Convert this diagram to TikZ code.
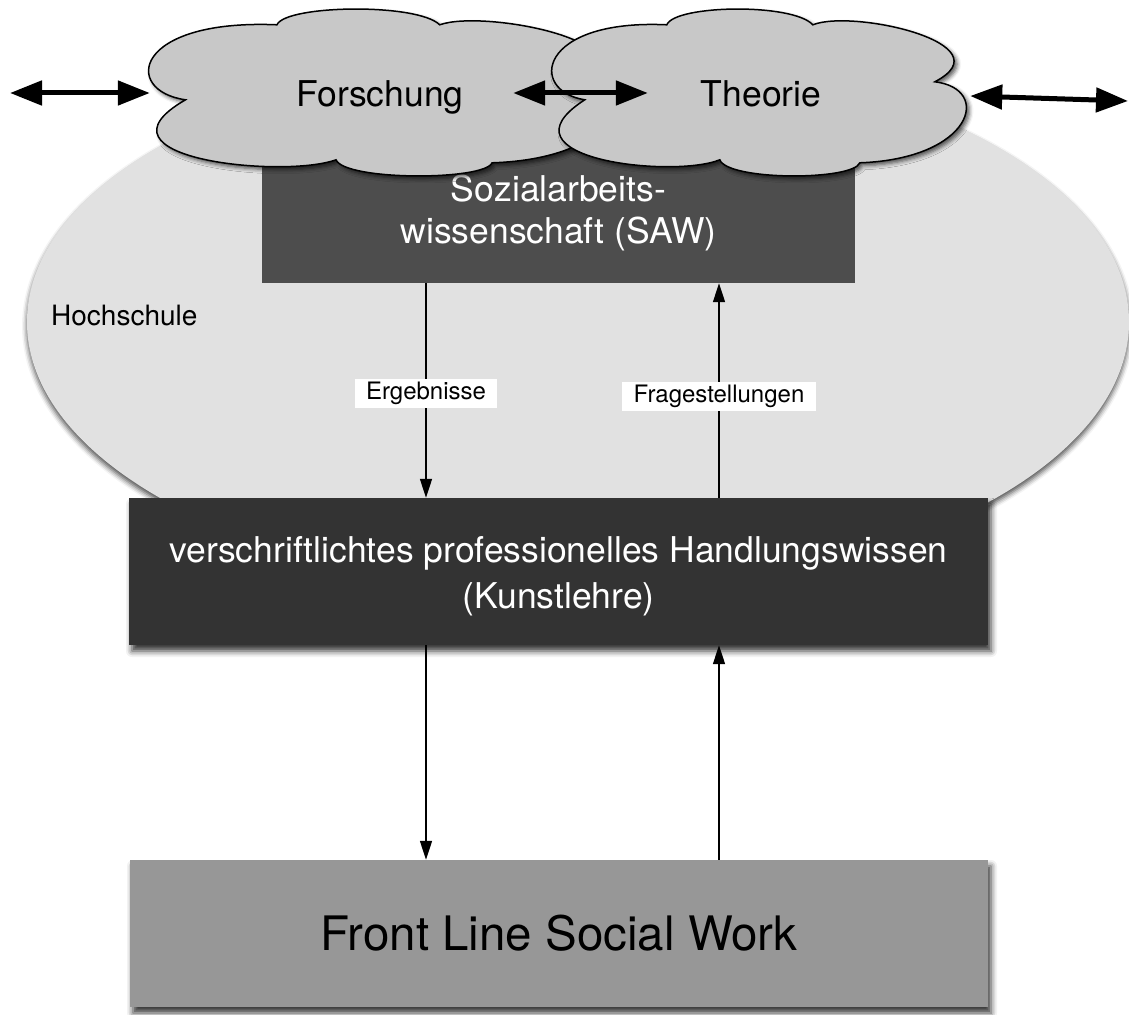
\documentclass[tikz,border=0pt]{standalone}
\usepackage{fontspec}
\setmainfont{TeX Gyre Heros}
\usetikzlibrary{arrows.meta,shadows.blur,shapes.geometric}
\definecolor{ellgray}{HTML}{E1E1E1}
\definecolor{cloudgray}{HTML}{C8C8C8}
\definecolor{sawgray}{HTML}{4D4D4D}
\definecolor{klgray}{HTML}{333333}
\definecolor{flgray}{HTML}{979797}
\tikzset{
  hsshape/.style={ellipse, fill=ellgray, inner sep=0pt, minimum width=1102pt, minimum height=540pt,
    blur shadow={shadow xshift=0pt, shadow yshift=-4pt, shadow blur radius=5pt, shadow opacity=70}},
  boxbase/.style={rectangle, inner sep=0pt, align=center, text=white},
  sawbox/.style={boxbase, fill=sawgray, minimum width=593pt, minimum height=140pt, font=\fontsize{35.5}{42}\selectfont},
  klbox/.style={boxbase, fill=klgray, minimum width=859pt, minimum height=147pt, font=\fontsize{35.5}{46}\selectfont,
    blur shadow={shadow xshift=3pt, shadow yshift=-6pt, shadow blur radius=6pt, shadow opacity=80}},
  flbox/.style={boxbase, fill=flgray, text=black, minimum width=858pt, minimum height=147pt, font=\fontsize{47.5}{56}\selectfont,
    blur shadow={shadow xshift=3pt, shadow yshift=-6pt, shadow blur radius=6pt, shadow opacity=80}},
  cloudbox/.style={rectangle, inner sep=0pt},
  cloudtext/.style={font=\fontsize{35.5}{42}\selectfont, anchor=base, inner sep=0pt},
  hstext/.style={font=\fontsize{28}{34}\selectfont, anchor=base west, inner sep=0pt},
  cloudline/.style={fill=cloudgray, draw=black, line width=1.5pt,
    blur shadow={shadow xshift=3pt, shadow yshift=-3pt, shadow blur radius=4pt, shadow opacity=65}},
  dblarrow/.style={line width=5pt, {Triangle[length=32pt,width=24pt]}-{Triangle[length=32pt,width=24pt]}},
  thinarrow/.style={line width=1.5pt, -{Triangle[length=19pt,width=12pt]}},
  lab/.style={fill=white, inner sep=0pt, inner xsep=11.5pt, minimum height=29pt, font=\fontsize{24}{28}\selectfont},
  cloudpic/.pic={
    \path[cloudline] (32,91) .. controls (-25,82) and (-15,10) .. (114,16)
      .. controls (122,-4) and (240,-6) .. (260,16)
      .. controls (300,0) and (455,35) .. (382,73)
      .. controls (440,80) and (420,150) .. (307,154)
      .. controls (300,172) and (175,172) .. (167,151)
      .. controls (120,170) and (-60,150) .. (32,91) -- cycle;
  }
}
\begin{document}
\begin{tikzpicture}[x=1pt,y=-1pt]
\useasboundingbox (0,0) rectangle (1129,1014);
% Hochschule ellipse
\node[hsshape] (hs) at (578,322) {};
\node[hstext] (hstx) at (51,325) {Hochschule};
% SAW box
\node[sawbox] (saw) at (558.5,213) {Sozialarbeits-\\wissenschaft (SAW)};
% cloud frames
\node[cloudbox, minimum width=465pt, minimum height=166pt] (focl) at (382.5,92) {};
\node[cloudbox, minimum width=417pt, minimum height=166pt] (thcl) at (761.5,92) {};
\pic[xscale=1.115] at (focl.north west) {cloudpic};
\pic at (thcl.north west) {cloudpic};
\node[cloudtext] (fo) at (380,107) {Forschung};
\node[cloudtext] (th) at (761,107) {Theorie};
% double arrows
\coordinate (lfree) at (10,93);
\coordinate (rfree) at (1128,101);
\draw[dblarrow] (lfree) -- ([yshift=-1pt]focl.west);
\draw[dblarrow] ([xshift=-102pt,yshift=-1pt]focl.east) -- ([xshift=95pt,yshift=-1pt]thcl.west);
\draw[dblarrow] ([yshift=-4pt]thcl.east) -- (rfree);
% lower boxes
\node[klbox] (kl) at (558.5,571.5) {\rule{0pt}{35pt}verschriftlichtes professionelles Handlungswissen\\(Kunstlehre)};
\node[flbox] (fl) at (559,933.5) {Front Line Social Work};
% thin arrows
\coordinate (c1) at (426,0);
\coordinate (c2) at (719,0);
\draw[thinarrow] (saw.south -| c1) -- node[lab, pos=0.514] (erg) {Ergebnisse} (kl.north -| c1);
\draw[thinarrow] (kl.north -| c2) -- node[lab, pos=0.474] (frg) {Fragestellungen} (saw.south -| c2);
\draw[thinarrow] (kl.south -| c1) -- (fl.north -| c1);
\draw[thinarrow] (fl.north -| c2) -- (kl.south -| c2);
\end{tikzpicture}
\end{document}
